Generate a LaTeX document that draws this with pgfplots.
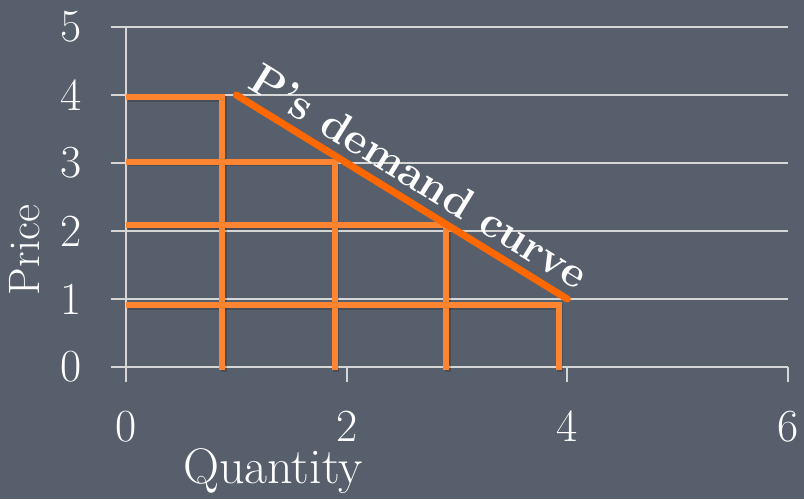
\documentclass[border=0pt]{standalone}
\usepackage{pgfplots}
\pgfplotsset{compat=1.18}

\definecolor{slatebg}{RGB}{88,95,108}
\definecolor{gridgray}{RGB}{214,214,214}
\definecolor{stepor}{RGB}{253,133,49}
\definecolor{demandor}{RGB}{255,104,0}

\begin{document}
\begin{tikzpicture}
\fill[slatebg] (-63pt,-66pt) rectangle (339pt,183.5pt);
\begin{axis}[
  at={(0,0)}, anchor=south west,
  scale only axis, width=331pt, height=170pt,
  xmin=0, xmax=6, ymin=0, ymax=5,
  axis lines=left,
  axis line style={-, gridgray, line width=1pt},
  xtick={0,2,4,6}, ytick={0,1,2,3,4,5},
  minor tick num=0,
  tick align=outside,
  major tick length=7.5pt,
  tick style={gridgray, line width=1pt},
  ymajorgrids,
  grid style={gridgray, line width=1pt},
  /pgf/number format/assume math mode=true,
  ticklabel style={text=white, font=\fontsize{23}{27}\selectfont},
  yticklabel style={xshift=-11pt},
  xticklabel style={yshift=-11pt},
  xlabel={Quantity}, ylabel={Price},
  label style={text=white},
  xlabel style={font=\fontsize{25}{29}\selectfont, at={(axis description cs:0.222,-0.343)}, anchor=base},
  ylabel style={font=\fontsize{22}{26}\selectfont, at={(axis description cs:-0.131,0.344)}, anchor=base},
  clip=false,
]
% soft shadows under the step bars
\addplot[black, opacity=0.18, line width=3pt, line join=miter, shift={(0.9pt,-0.9pt)}] coordinates {(0,3.97) (0.87,3.97) (0.87,-0.04)};
\addplot[black, opacity=0.18, line width=3pt, line join=miter, shift={(0.9pt,-0.9pt)}] coordinates {(0,3.02) (1.89,3.02) (1.89,-0.04)};
\addplot[black, opacity=0.18, line width=3pt, line join=miter, shift={(0.9pt,-0.9pt)}] coordinates {(0,2.09) (2.90,2.09) (2.90,-0.04)};
\addplot[black, opacity=0.18, line width=3pt, line join=miter, shift={(0.9pt,-0.9pt)}] coordinates {(0,0.91) (3.92,0.91) (3.92,-0.04)};
% step bars for the four quantity/price pairs
\addplot[stepor, line width=3pt, line join=miter] coordinates {(0,3.97) (0.87,3.97) (0.87,-0.04)};
\addplot[stepor, line width=3pt, line join=miter] coordinates {(0,3.02) (1.89,3.02) (1.89,-0.04)};
\addplot[stepor, line width=3pt, line join=miter] coordinates {(0,2.09) (2.90,2.09) (2.90,-0.04)};
\addplot[stepor, line width=3pt, line join=miter] coordinates {(0,0.91) (3.92,0.91) (3.92,-0.04)};
% demand curve
\addplot[demandor, line width=3.5pt, line cap=round] coordinates {(1,4) (4,1)};
\node[rotate=-31.65, anchor=south, text=white, inner sep=5.5pt,
      font=\bfseries\fontsize{22}{26}\selectfont] at (axis cs:2.53,2.47) {P's demand curve};
\end{axis}
\pgfresetboundingbox
\path (-63pt,-66pt) rectangle (339pt,183.5pt);
\end{tikzpicture}
\end{document}
